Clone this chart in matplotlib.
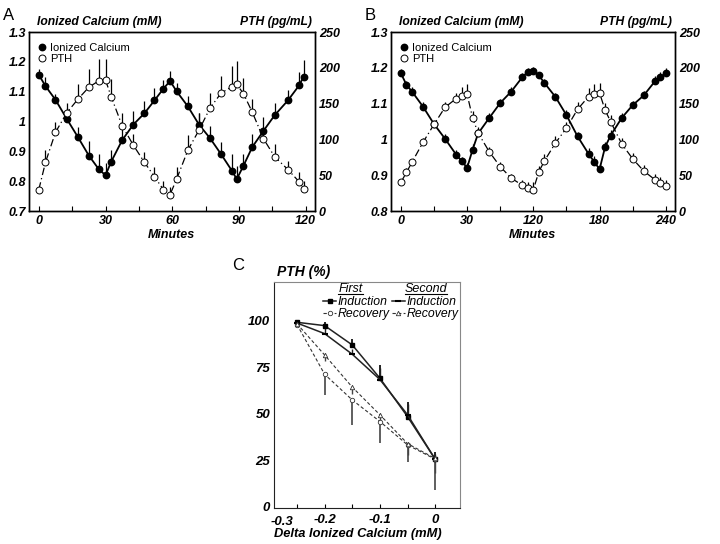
import numpy as np
import matplotlib
matplotlib.use("Agg")
import matplotlib.pyplot as plt

plt.rcParams["font.family"] = ["Liberation Sans", "DejaVu Sans"]

# -------------------------
# Panel A data (120 min clamp)
# -------------------------
a_time = [0, 3, 7.5, 12.5, 17.5, 22.5, 27, 30, 32.5, 37.5, 42.5, 47.5, 52, 56, 59,
          62, 67, 72, 77, 82, 87, 89, 92, 96, 101, 106, 112, 117, 119]
a_ca = [1.157, 1.119, 1.073, 1.010, 0.949, 0.886, 0.840, 0.820, 0.865, 0.938, 0.990,
        1.028, 1.071, 1.110, 1.136, 1.101, 1.051, 0.990, 0.944, 0.890, 0.833, 0.807,
        0.852, 0.915, 0.969, 1.021, 1.071, 1.121, 1.150]
a_ca_err = [0.018, 0.03, 0.02, 0.035, 0.034, 0.05, 0.05, 0.04, 0.04, 0.04, 0.045,
            0.04, 0.04, 0.03, 0.035, 0.03, 0.035, 0.04, 0.04, 0.04, 0.06, 0.045,
            0.04, 0.045, 0.045, 0.04, 0.035, 0.045, 0.055]
a_pth = [30, 68, 110, 137, 156, 173, 182, 183, 160, 119, 92, 68, 48, 30, 23,
         45, 85, 113, 144, 165, 174, 177, 164, 138, 101, 76, 58, 41, 31]
a_pth_err = [0, 17, 15, 14, 21, 25, 30, 30, 24, 18, 16, 15, 13, 12, 10,
             16, 21, 24, 21, 24, 29, 33, 22, 18, 17, 18, 12, 14, 11]
a_xticks = [0, 30, 60, 90, 120]
a_xlabels = ["0", "30", "60", "90", "120"]
a_yticks = [0.7, 0.8, 0.9, 1.0, 1.1, 1.2, 1.3]
a_ylabels = ["0.7", "0.8", "0.9", "1", "1.1", "1.2", "1.3"]

# -------------------------
# Panel B data (240 min clamp)
# -------------------------
b_time = [0, 5, 10, 20, 30, 40, 50, 55, 60, 65, 70, 80, 90, 100, 110, 115, 120,
          125, 130, 140, 150, 160, 170, 175, 180, 185, 190, 200, 210, 220, 230, 235, 240]
b_ca = [1.185, 1.153, 1.134, 1.092, 1.043, 1.002, 0.958, 0.940, 0.921, 0.972, 1.017,
        1.060, 1.102, 1.134, 1.174, 1.189, 1.192, 1.179, 1.158, 1.119, 1.068, 1.009,
        0.960, 0.938, 0.917, 0.979, 1.011, 1.060, 1.096, 1.123, 1.162, 1.174, 1.185]
b_ca_err = [0.012, 0.01, 0.012, 0.012, 0.01, 0.012, 0.012, 0.012, 0.012, 0.015, 0.012,
            0.015, 0.012, 0.012, 0.012, 0.012, 0.01, 0.01, 0.012, 0.012, 0.015, 0.012,
            0.015, 0.015, 0.015, 0.015, 0.015, 0.015, 0.012, 0.012, 0.015, 0.015, 0.015]
b_pth = [40, 54, 68, 96, 121, 145, 157, 161, 163, 130, 109, 83, 62, 46, 36, 32, 30,
         55, 70, 95, 116, 142, 160, 164, 165, 141, 125, 94, 73, 56, 44, 39, 35]
b_pth_err = [0, 6, 5, 6, 0, 8, 8, 12, 14, 10, 8, 7, 7, 6, 8, 9, 10,
             8, 10, 10, 8, 10, 12, 13, 14, 10, 9, 8, 8, 8, 8, 8, 8]
b_xticks = [0, 60, 120, 180, 240]
b_xlabels = ["0", "30", "120", "180", "240"]
b_yticks = [0.8, 0.9, 1.0, 1.1, 1.2, 1.3]
b_ylabels = ["0.8", "0.9", "1", "1.1", "1.2", "1.3"]

pth_ticks = [0, 50, 100, 150, 200, 250]

# -------------------------
# Panel C data (PTH % vs delta calcium)
# -------------------------
c_delta = [-0.25, -0.2, -0.15, -0.1, -0.05, 0]
c_ind1 = [99.3, 97.5, 87.1, 69.2, 48.5, 25.6]
c_ind1_up = [1, 2, 3, 7, 8, 4]
c_ind2 = [98.9, 93.2, 82.1, 68.5, 49.5, 25.6]
c_ind2_up = [0, 3, 3, 6, 6, 3]
c_rec1 = [98.1, 71.3, 57.5, 45.9, 33.3, 25.6]
c_rec1_dn = [0, 11, 13.5, 11.5, 9, 16.5]
c_rec2 = [98.5, 81.7, 64.4, 49.5, 34.0, 26.0]
c_rec2_dn = [0, 3.5, 3.5, 3, 6, 8]
c_yticks = [0, 25, 50, 75, 100]
c_xticks = [-0.25, -0.2, -0.15, -0.1, -0.05, 0]
c_xlabels = ["", "-0.2", "", "-0.1", "", "0"]

fig = plt.figure(figsize=(7.2, 5.44), dpi=100)

lab = dict(fontstyle="italic", fontweight="bold")


def time_panel(rect, t, ca, ca_err, pth, pth_err, xlim, ylim, yticks, ylabels,
               xticks, xlabels, minor_step, letter):
    ax = fig.add_axes(rect)
    ax2 = ax.twinx()

    ax.plot(t, ca, "-", color="black", lw=1.3, zorder=2)
    ax.errorbar(t, ca, yerr=[np.zeros(len(ca)), ca_err], fmt="none",
                ecolor="black", elinewidth=0.9, capsize=0, zorder=2)
    h1, = ax.plot(t, ca, "o", color="black", ms=4.6, zorder=3,
                  label="Ionized Calcium")

    ax2.plot(t, pth, color="black", lw=0.9, ls=(0, (6, 2.5, 1, 2.5)), zorder=2)
    ax2.errorbar(t, pth, yerr=[np.zeros(len(pth)), pth_err], fmt="none",
                 ecolor="black", elinewidth=0.9, capsize=0, zorder=2)
    h2, = ax2.plot(t, pth, "o", mfc="white", mec="black", mew=0.7, ms=5,
                   zorder=3, label="PTH")

    ax.set_xlim(xlim)
    ax.set_ylim(ylim)
    ax2.set_ylim(0, 250)
    ax.set_xticks(np.arange(0, xlim[1], minor_step), minor=True)
    ax.set_xticks(xticks)
    ax.set_xticklabels(xlabels, fontsize=9, **lab)
    ax.set_yticks(yticks)
    ax.set_yticklabels(ylabels, fontsize=9, **lab)
    ax2.set_yticks(pth_ticks)
    ax2.set_yticklabels([str(v) for v in pth_ticks], fontsize=9, **lab)
    ax.tick_params(axis="x", which="both", direction="in", length=3.5, width=0.8, pad=3)
    ax.tick_params(axis="y", direction="in", length=0, pad=2)
    ax2.tick_params(axis="y", direction="in", length=0, pad=3)
    for a in (ax, ax2):
        for s in a.spines.values():
            s.set_linewidth(1.0)

    ax.set_xlabel("Minutes", fontsize=9, labelpad=1, **lab)
    ax.text(0.03, 1.025, "Ionized Calcium (mM)", transform=ax.transAxes,
            fontsize=8.7, ha="left", va="bottom", **lab)
    ax.text(0.99, 1.025, "PTH (pg/mL)", transform=ax.transAxes,
            fontsize=8.7, ha="right", va="bottom", **lab)
    ax2.legend(handles=[h1, h2], loc="upper left", bbox_to_anchor=(0.0, 0.985),
               frameon=False, fontsize=8, handletextpad=0.2, labelspacing=0.15,
               handlelength=1.0, borderaxespad=0.3)
    fig.text(rect[0] - 0.036, 0.985, letter, fontsize=12, ha="left", va="top")
    return ax


time_panel([0.040, 0.612, 0.397, 0.329], a_time, a_ca, a_ca_err, a_pth, a_pth_err,
           (-4.5, 124), (0.7, 1.3), a_yticks, a_ylabels, a_xticks, a_xlabels, 15, "A")
time_panel([0.543, 0.612, 0.394, 0.329], b_time, b_ca, b_ca_err, b_pth, b_pth_err,
           (-9, 248), (0.8, 1.3), b_yticks, b_ylabels, b_xticks, b_xlabels, 30, "B")

# -------------------------
# Panel C
# -------------------------
axc = fig.add_axes([0.381, 0.066, 0.258, 0.415])
z = np.zeros(len(c_delta))

axc.errorbar(c_delta, c_ind1, yerr=[z, c_ind1_up], fmt="none", ecolor="#222222",
             elinewidth=1.4, capsize=0)
axc.errorbar(c_delta, c_ind2, yerr=[z, c_ind2_up], fmt="none", ecolor="#222222",
             elinewidth=1.0, capsize=0)
axc.errorbar(c_delta, c_rec1, yerr=[c_rec1_dn, z], fmt="none", ecolor="#444444",
             elinewidth=1.2, capsize=0)
axc.errorbar(c_delta, c_rec2, yerr=[c_rec2_dn, z], fmt="none", ecolor="#444444",
             elinewidth=1.0, capsize=0)

l1, = axc.plot(c_delta, c_ind1, "-", color="#222222", lw=1.1, marker="s", ms=3,
               mfc="black", mec="black", label="Induction")
l3, = axc.plot(c_delta, c_rec1, color="#333333", lw=0.8, ls=(0, (3, 2)), marker="o",
               ms=3.2, mfc="white", mec="#333333", mew=0.6, label="Recovery")
l2, = axc.plot(c_delta, c_ind2, "-", color="#222222", lw=1.1, marker="_", ms=4,
               mec="black", mew=1.5, label="Induction")
l4, = axc.plot(c_delta, c_rec2, color="#333333", lw=0.8, ls=(0, (3, 2)), marker="^",
               ms=3.2, mfc="white", mec="#333333", mew=0.6, label="Recovery")

axc.set_xlim(-0.291, 0.045)
axc.set_ylim(-0.7, 120.8)
axc.set_yticks(c_yticks)
axc.set_yticklabels([str(v) for v in c_yticks], fontsize=9.5, **lab)
axc.set_xticks(c_xticks)
axc.set_xticklabels(c_xlabels, fontsize=9.5, **lab)
axc.text(-0.277, -0.035, "-0.3", transform=axc.get_xaxis_transform(),
         fontsize=9.5, ha="center", va="top", **lab)
axc.tick_params(axis="x", direction="in", length=3, width=0.8, pad=4)
axc.tick_params(axis="y", direction="in", length=0, pad=3)
for side in ("left", "bottom"):
    axc.spines[side].set_color("#222222")
for side in ("right", "top"):
    axc.spines[side].set_color("#888888")

axc.set_xlabel("Delta Ionized Calcium (mM)", fontsize=9.3, labelpad=1, **lab)
axc.xaxis.set_label_coords(0.449, -0.09)
axc.text(0.015, 1.015, "PTH (%)", transform=axc.transAxes,
         fontsize=10, ha="left", va="bottom", **lab)

# legend: two columns of entries, titles drawn as underlined text
leg_font = {"style": "italic", "size": 8.8}
leg1 = axc.legend(handles=[l1, l3], loc="center left",
                  bbox_to_anchor=(0.262, 0.886), frameon=False, prop=leg_font,
                  handlelength=1.1, handletextpad=0.1, labelspacing=0.0,
                  borderpad=0, borderaxespad=0)
axc.add_artist(leg1)
axc.legend(handles=[l2, l4], loc="center left",
           bbox_to_anchor=(0.632, 0.886), frameon=False, prop=leg_font,
           handlelength=1.1, handletextpad=0.1, labelspacing=0.0,
           borderpad=0, borderaxespad=0)
axc.text(0.41, 0.972, "First", transform=axc.transAxes, fontstyle="italic",
         fontsize=9, ha="center", va="center")
axc.text(0.815, 0.972, "Second", transform=axc.transAxes, fontstyle="italic",
         fontsize=9, ha="center", va="center")
axc.plot([0.342, 0.477], [0.948, 0.948], color="black", lw=0.8,
         transform=axc.transAxes, clip_on=False)
axc.plot([0.703, 0.928], [0.948, 0.948], color="black", lw=0.8,
         transform=axc.transAxes, clip_on=False)
fig.text(0.323, 0.525, "C", fontsize=12, ha="left", va="top")

plt.savefig("out.png", dpi=100)
